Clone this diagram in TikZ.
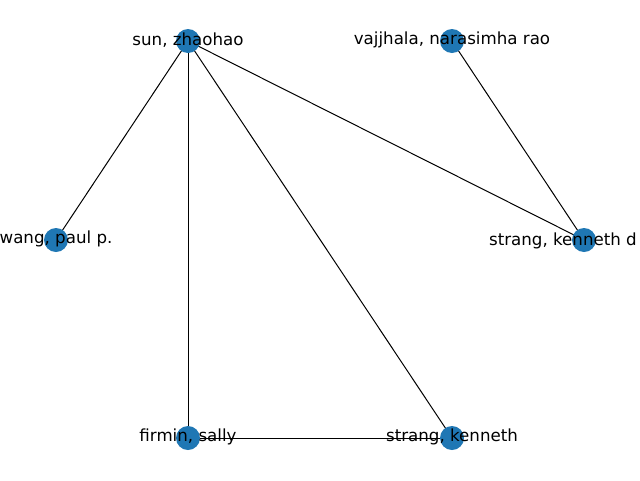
\documentclass[tikz,border=0pt]{standalone}
\usepackage{fontspec}
\setmainfont{DejaVu Sans}
\begin{document}
\begin{tikzpicture}[x=1pt,y=-1pt,
  vtx/.style={circle,fill={rgb,255:red,31;green,119;blue,180},minimum size=24pt,inner sep=0pt},
  lbl/.style={font=\fontsize{16.67}{20}\selectfont,inner sep=0pt,text=black},
  edge/.style={draw=black,line width=1pt}]
\path[use as bounding box] (0,0) rectangle (640,480);
\begin{scope}
\clip (0,0) rectangle (640,480);
\coordinate (sun) at (188,41);
\coordinate (vaj) at (452,41);
\coordinate (wang) at (56,240);
\coordinate (skd) at (584,240);
\coordinate (fir) at (188,438);
\coordinate (sk) at (452,438);
\draw[edge] (sun) -- (wang);
\draw[edge] (sun) -- (fir);
\draw[edge] (sun) -- (sk);
\draw[edge] (sun) -- (skd);
\draw[edge] (vaj) -- (skd);
\draw[edge] (fir) -- (sk);
\node[vtx] (nsun) at (sun) {};
\node[vtx] (nvaj) at (vaj) {};
\node[vtx] (nwang) at (wang) {};
\node[vtx] (nskd) at (skd) {};
\node[vtx] (nfir) at (fir) {};
\node[vtx] (nsk) at (sk) {};
\node[lbl] (lsun) at ([yshift=1pt]sun) {sun, zhaohao};
\node[lbl] (lvaj) at ([yshift=1pt]vaj) {vajjhala, narasimha rao};
\node[lbl] (lwang) at ([yshift=1pt]wang) {wang, paul p.};
\node[lbl,anchor=east] (lskd) at (637,241) {strang, kenneth d};
\node[lbl] (lfir) at ([yshift=1pt]fir) {firmin, sally};
\node[lbl] (lsk) at ([yshift=1pt]sk) {strang, kenneth};
\end{scope}
\end{tikzpicture}
\end{document}
